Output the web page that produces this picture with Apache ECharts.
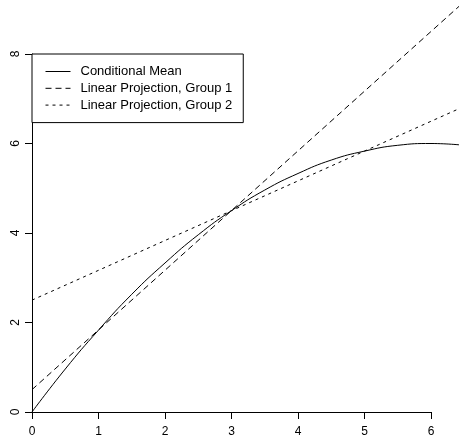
<!DOCTYPE html>
<html>
<head>
<meta charset="utf-8">
<script src="https://cdn.jsdelivr.net/npm/echarts@6/dist/echarts.min.js"></script>
<style>
  html, body { margin: 0; padding: 0; background: #fff; }
  #main { width: 459px; height: 438px; }
</style>
</head>
<body>
<div id="main"></div>
<script>
// values
var curveX = [0, 0.5, 1, 1.5, 2, 2.5, 3, 3.5, 4, 4.5, 5, 5.5, 6, 6.5];
var curveY = [0, 0.96, 1.83, 2.63, 3.33, 3.96, 4.5, 4.96, 5.33, 5.63, 5.83, 5.96, 6.0, 5.96];
var group1X = [0, 6.5];
var group1Y = [0.5, 9.17];
var group2X = [0, 6.5];
var group2Y = [2.5, 6.83];
var xTicks = [0, 1, 2, 3, 4, 5, 6];
var yTicks = [0, 2, 4, 6, 8];
var names = ['Conditional Mean', 'Linear Projection, Group 1', 'Linear Projection, Group 2'];

function pairs(xs, ys) {
  var out = [];
  for (var i = 0; i < xs.length; i++) {
    out.push([xs[i], ys[i]]);
  }
  return out;
}

var font = 'Liberation Sans, Arial, sans-serif';

var option = {
  animation: false,
  backgroundColor: '#fff',
  grid: [
    // axes only (lines drawn from first to last tick, R style)
    { left: 32, bottom: 26, width: 399, height: 358 },
    // plotting region
    { left: 32, right: 0, top: 0, bottom: 26 }
  ],
  xAxis: [
    {
      gridIndex: 0, type: 'value',
      min: xTicks[0], max: xTicks[xTicks.length - 1], interval: 1,
      axisLine: { show: true, lineStyle: { color: '#000', width: 1 } },
      axisTick: { show: true, inside: false, length: 7, lineStyle: { color: '#000' } },
      axisLabel: { color: '#000', fontSize: 12, fontFamily: font, margin: 14 },
      splitLine: { show: false }
    },
    { gridIndex: 1, type: 'value', min: 0, max: 6.421, show: false }
  ],
  yAxis: [
    {
      gridIndex: 0, type: 'value',
      min: yTicks[0], max: yTicks[yTicks.length - 1], interval: 2,
      axisLine: { show: true, lineStyle: { color: '#000', width: 1 } },
      axisTick: { show: true, inside: false, length: 7, lineStyle: { color: '#000' } },
      axisLabel: { color: '#000', fontSize: 12, fontFamily: font, rotate: 90, margin: 10 },
      splitLine: { show: false }
    },
    { gridIndex: 1, type: 'value', min: 0, max: 9.207, show: false }
  ],
  legend: {
    orient: 'vertical',
    left: 32,
    top: 54,
    data: names,
    itemWidth: 25,
    itemHeight: 10,
    itemGap: 3.8,
    padding: [11, 11, 11, 13],
    borderColor: '#000',
    borderWidth: 1,
    backgroundColor: '#fff',
    itemStyle: { opacity: 0 },
    lineStyle: { width: 1 },
    textStyle: { color: '#000', fontSize: 13, fontFamily: font, padding: [0, 0, 0, 5] }
  },
  series: [
    {
      name: names[0], type: 'line', xAxisIndex: 1, yAxisIndex: 1,
      data: pairs(curveX, curveY), smooth: true, symbol: 'none',
      lineStyle: { color: '#000', width: 1, type: 'solid' },
      itemStyle: { color: '#000' }
    },
    {
      name: names[1], type: 'line', xAxisIndex: 1, yAxisIndex: 1,
      data: pairs(group1X, group1Y), symbol: 'none',
      lineStyle: { color: '#000', width: 1, type: [6, 4] },
      itemStyle: { color: '#000' }
    },
    {
      name: names[2], type: 'line', xAxisIndex: 1, yAxisIndex: 1,
      data: pairs(group2X, group2Y), symbol: 'none',
      lineStyle: { color: '#000', width: 1, type: [3, 4] },
      itemStyle: { color: '#000' }
    }
  ]
};

var myChart = echarts.init(document.getElementById('main'));
myChart.setOption(option);
</script>
</body>
</html>
